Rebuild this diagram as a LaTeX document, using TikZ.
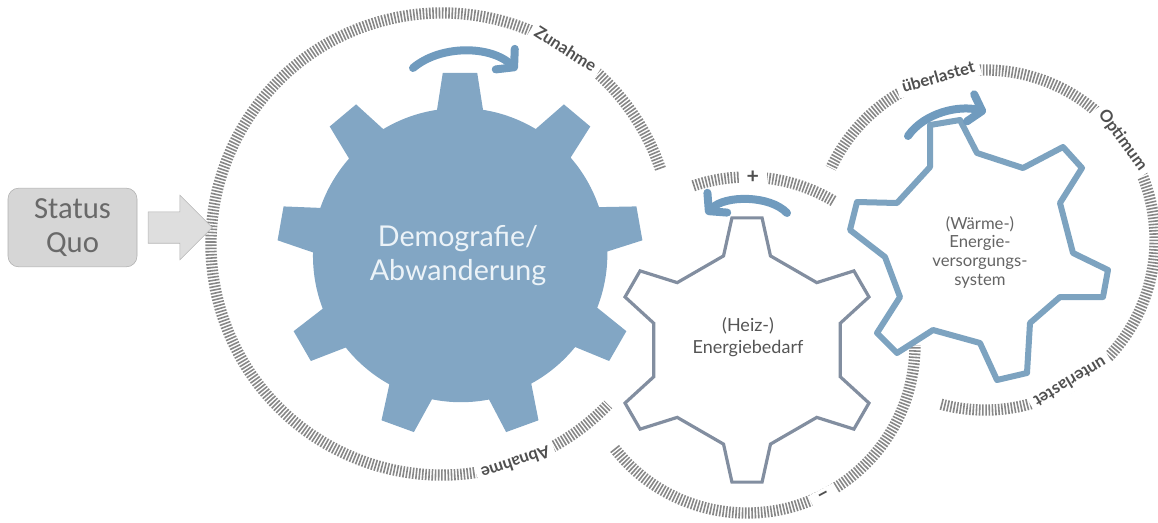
\documentclass[tikz,border=0pt]{standalone}
\usepackage{fontspec}
\setmainfont{Lato}
\newfontfamily\statusfont{Carlito}
\usetikzlibrary{arrows.meta,positioning,shapes.arrows}

\begin{document}
\begin{tikzpicture}[x=0.75pt,y=0.75pt,yscale=-1,xscale=1,
  ticks/.style={color={rgb, 255:red, 135; green, 135; blue, 135 }, line width=8.5pt, dash pattern=on 1.2pt off 1.2pt},
  ringlabel/.style={fill=white, inner xsep=4pt, inner ysep=3pt, text={rgb, 255:red, 80; green, 80; blue, 80 }, font=\fontsize{12.5}{14}\selectfont\bfseries},
  ringsign/.style={ringlabel, inner xsep=6pt, font=\fontsize{16}{16}\selectfont\bfseries},
  bigwheel/.style={fill={rgb, 255:red, 130; green, 166; blue, 196 }},
  midwheel/.style={draw={rgb, 255:red, 130; green, 142; blue, 160 }, fill=white, line width=2.4pt},
  rightwheel/.style={draw={rgb, 255:red, 125; green, 163; blue, 192 }, fill=white, line width=4.5pt, line join=round},
  turn/.style={color={rgb, 255:red, 112; green, 155; blue, 190 }, line width=6pt, line cap=round, -{Straight Barb[round, length=9pt, width=21pt]}},
  statusbox/.style={draw={rgb, 255:red, 175; green, 175; blue, 175 }, fill={rgb, 255:red, 214; green, 214; blue, 214 }, rounded corners=8pt, minimum width=96.75pt, minimum height=59pt, align=center, text={rgb, 255:red, 105; green, 105; blue, 105 }, font=\statusfont\fontsize{23}{25}\selectfont},
  pusharrow/.style={single arrow, draw={rgb, 255:red, 180; green, 180; blue, 180 }, fill={rgb, 255:red, 222; green, 222; blue, 222 }, inner xsep=0pt, inner ysep=11.6pt, single arrow head extend=12.4pt, single arrow tip angle=90, minimum height=48pt}
]
\useasboundingbox (0,0) rectangle (1158,522);

%Tick Ring [Demografie]
\begin{scope}[shift={(442,244)},yscale=-1]
\draw [ticks] (19:231) arc[start angle=19, end angle=316, radius=231];
\node [ringlabel, rotate=-32.4] (zunahme) at (57.6:231) {Zunahme};
\node [ringlabel, rotate=-161.4] (abnahme) at (-71.4:231) {Abnahme};
\end{scope}
%Tick Ring [Heiz]
\begin{scope}[shift={(747,345)},yscale=-1]
\draw [ticks] (59:168) arc[start angle=59, end angle=109, radius=168];
\draw [ticks] (218:168) arc[start angle=218, end angle=360, radius=168];
\node [ringsign] (plus) at (88:168) {+};
\node [ringsign, rotate=28] (minus) at (297:170) {–};
\end{scope}
%Tick Ring [Waerme]
\begin{scope}[shift={(985,240)},yscale=-1]
\draw [ticks] (-105:170) arc[start angle=-105, end angle=155, radius=170];
\node [ringlabel, rotate=16] (ueber) at (106:170) {überlastet};
\node [ringlabel, rotate=-54] (optimum) at (36:170) {Optimum};
\node [ringlabel, rotate=-149] (unter) at (-59:166) {unterlastet};
\end{scope}

%Gear [Demografie]
\begin{scope}[shift={(460,255)},yscale=-1]
\fill [bigwheel] (58.6:147) \foreach \a in {90,130,...,410} { arc[start angle=\a-31.4, end angle=\a-9, radius=147] -- (\a-5.4:183) -- (\a+5.4:183) -- (\a+9:147) } -- cycle;
\end{scope}
%Gear [Heiz]
\begin{scope}[shift={(747,350)},yscale=-1]
\draw [midwheel] (76:97) \foreach \a in {90,150,...,420} { -- (\a-14:97) -- (\a-6.5:133) -- (\a+6.5:133) -- (\a+14:97) } -- cycle;
\end{scope}
%Gear [Waerme]
\draw [rightwheel] (930,125) -- (960,120) -- (977,153) -- (1023,168) -- (1063,147) -- (1082,168) -- (1060,203) -- (1073,253) -- (1108,270) -- (1103,297) -- (1060,297) -- (1030,323) -- (1027,373) -- (997,380) -- (980,343) -- (933,330) -- (897,353) -- (877,333) -- (900,297) -- (885,257) -- (850,230) -- (857,202) -- (897,203) -- (930,167) -- cycle ;

%Curve Arrows
\draw [turn] (413,68) .. controls (440,45) and (490,45) .. (517,70) ;
\draw [turn] (787,213) .. controls (770,195) and (725,195) .. (706,214) ;
\draw [turn] (908,136) .. controls (925,112) and (960,105) .. (986,112) ;

% Text Node
\node [text={rgb, 255:red, 236; green, 243; blue, 248 }, align=center, font=\fontsize{21.5}{25.5}\selectfont] (demo) at (458,256) {Demografie/\\Abwanderung};
% Text Node
\node [text={rgb, 255:red, 85; green, 85; blue, 85 }, align=center, font=\fontsize{13.5}{16.5}\selectfont] (heiz) at (748,337) {(Heiz-)\\Energiebedarf};
% Text Node
\node [text={rgb, 255:red, 100; green, 100; blue, 100 }, align=center, font=\fontsize{12.5}{14}\selectfont] (waerme) at (980,252) {(Wärme-)\\Energie-\\versorgungs-\\system};

% Status
\node [statusbox] (status) at (72.5,227.5) {Status\\Quo};
\node [pusharrow, right=8pt of status] (push) {};

\end{tikzpicture}
\end{document}
